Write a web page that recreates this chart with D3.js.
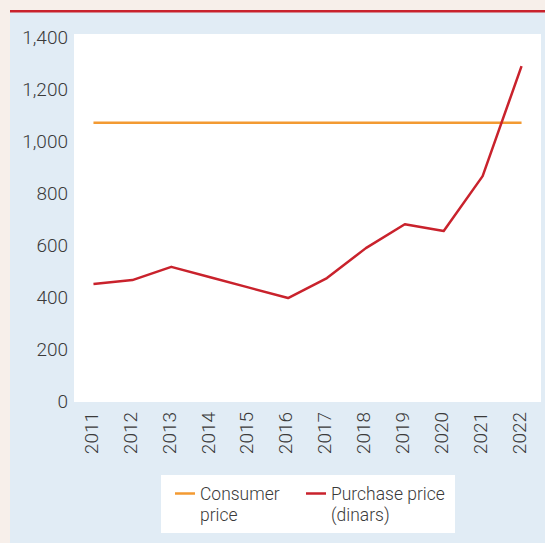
<!DOCTYPE html>
<html>
<head>
<meta charset="utf-8">
<script src="https://cdn.jsdelivr.net/npm/d3@7"></script>
<style>
  html, body { margin: 0; padding: 0; background: #f7efea; }
  svg { display: block; }
  text { font-family: Roboto, "DejaVu Sans Condensed", sans-serif; font-weight: 300; fill: #3a3a3a; }
</style>
</head>
<body>
<div id="chart"></div>
<script>
const years = ["2011", "2012", "2013", "2014", "2015", "2016", "2017", "2018", "2019", "2020", "2021", "2022"]
const purchasePrice = [450, 465, 516, 476, 436, 396, 473, 588, 680, 654, 865, 1288]
const consumerPrice = [1070, 1070, 1070, 1070, 1070, 1070, 1070, 1070, 1070, 1070, 1070, 1070]
const yTicks = [0, 200, 400, 600, 800, 1000, 1200, 1400]
const legendLabels = [["Consumer", "price"], ["Purchase price", "(dinars)"]]

const width = 545
const height = 543
const plot = { left: 74, right: 541, top: 34, bottom: 402 }

const svg = d3.select("#chart")
  .append("svg")
  .attr("width", width)
  .attr("height", height)

// Page background and panel
svg.append("rect")
  .attr("width", width).attr("height", height)
  .attr("fill", "#f7efea")

svg.append("rect")
  .attr("x", 10).attr("y", 12)
  .attr("width", width - 10).attr("height", height - 12)
  .attr("fill", "#e1ecf5")

svg.append("rect")
  .attr("x", 10).attr("y", 10)
  .attr("width", width - 10).attr("height", 2.5)
  .attr("fill", "#c9222c")

svg.append("rect")
  .attr("x", plot.left).attr("y", plot.top)
  .attr("width", plot.right - plot.left).attr("height", plot.bottom - plot.top)
  .attr("fill", "#ffffff")

const x = d3.scalePoint()
  .domain(years)
  .range([plot.left, plot.right])
  .padding(0.5)

const y = d3.scaleLinear()
  .domain([0, 1400])
  .range([401, 37])

// Axes (labels only)
const yAxis = svg.append("g")
  .attr("transform", `translate(${plot.left},0)`)
  .call(d3.axisLeft(y).tickValues(yTicks).tickSize(0).tickPadding(6).tickFormat(d3.format(",")))
yAxis.select(".domain").remove()
yAxis.selectAll("text")
  .attr("font-size", 19)
  .attr("font-family", null)
  .attr("fill", "#3a3a3a")

const xAxis = svg.append("g")
  .attr("transform", `translate(0,${plot.bottom})`)
  .call(d3.axisBottom(x).tickSize(0))
xAxis.select(".domain").remove()
xAxis.selectAll("text")
  .attr("font-size", 19)
  .attr("font-family", null)
  .attr("fill", "#3a3a3a")
  .attr("text-anchor", "end")
  .attr("dy", "0.2em")
  .attr("transform", "translate(0,10) rotate(-90)")
  .attr("y", 0)
  .attr("x", 0)

// Lines
const line = d3.line()
  .x((d, i) => x(years[i]))
  .y(d => y(d))

svg.append("path")
  .datum(consumerPrice)
  .attr("fill", "none")
  .attr("stroke", "#f39a32")
  .attr("stroke-width", 2.5)
  .attr("d", line)

svg.append("path")
  .datum(purchasePrice)
  .attr("fill", "none")
  .attr("stroke", "#c9222c")
  .attr("stroke-width", 2.5)
  .attr("stroke-linejoin", "round")
  .attr("d", line)

// Legend
const legend = svg.append("g")
legend.append("rect")
  .attr("x", 161).attr("y", 475)
  .attr("width", 294).attr("height", 58)
  .attr("fill", "#ffffff")

const legendColors = ["#f39a32", "#c9222c"]
const legendX = [175, 306]
legendLabels.forEach((lines, i) => {
  legend.append("line")
    .attr("x1", legendX[i]).attr("x2", legendX[i] + 20)
    .attr("y1", 493.5).attr("y2", 493.5)
    .attr("stroke", legendColors[i])
    .attr("stroke-width", 2.5)
  // condensed look: squeeze text horizontally
  const t = legend.append("text")
    .attr("transform", `translate(${legendX[i] + 25},500) scale(0.92,1)`)
    .attr("font-size", 19)
  lines.forEach((s, j) => {
    t.append("tspan")
      .attr("x", 0)
      .attr("dy", j === 0 ? 0 : 21)
      .text(s)
  })
})
</script>
</body>
</html>
